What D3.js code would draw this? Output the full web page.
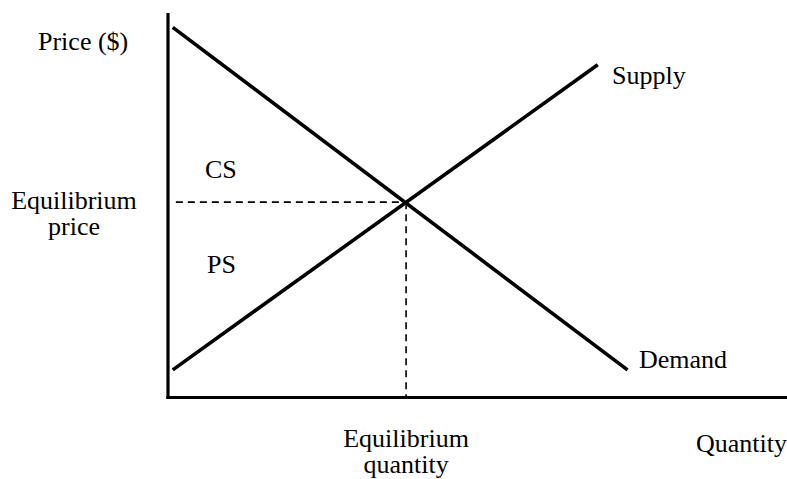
<!DOCTYPE html>
<html>
<head>
<meta charset="utf-8">
<title>Supply and demand</title>
<script src="https://d3js.org/d3.v7.min.js"></script>
<style>
  body { margin: 0; background: #fff; }
  text { font-family: "Liberation Serif", "Times New Roman", serif; font-size: 26px; fill: #000; }
</style>
</head>
<body>
<div id="chart"></div>
<script>
// curves (quantity, price), arbitrary units
var demandQ = [0.2, 19.3]
var demandP = [15.4, 1.15]
var supplyQ = [0.2, 18.05]
var supplyP = [1.15, 13.85]
var eqQ = 10
var eqP = 8.13

var width = 787, height = 479

var svg = d3.select("#chart").append("svg")
    .attr("width", width)
    .attr("height", height)

// scales: origin of the axes at (168, 397.5)
var x = d3.scaleLinear().domain([0, 26]).range([168, 787])
var y = d3.scaleLinear().domain([0, 16]).range([397.5, 13])

// axes (plain lines, no ticks)
svg.append("line")
    .attr("x1", x(0)).attr("x2", x(0))
    .attr("y1", y(16)).attr("y2", y(0) + 1.5)
    .attr("stroke", "#000").attr("stroke-width", 3.2)
svg.append("line")
    .attr("x1", x(0) - 1.5).attr("x2", x(26))
    .attr("y1", y(0)).attr("y2", y(0))
    .attr("stroke", "#000").attr("stroke-width", 3.2)

// dashed guides to the equilibrium
svg.append("line")
    .attr("x1", x(0.33)).attr("x2", x(eqQ))
    .attr("y1", y(eqP)).attr("y2", y(eqP))
    .attr("stroke", "#000").attr("stroke-width", 1.6)
    .attr("stroke-dasharray", "7,5")
svg.append("line")
    .attr("x1", x(eqQ)).attr("x2", x(eqQ))
    .attr("y1", y(eqP)).attr("y2", y(0))
    .attr("stroke", "#000").attr("stroke-width", 1.6)
    .attr("stroke-dasharray", "7,5")

var line = d3.line()
    .x(function(d) { return x(d[0]) })
    .y(function(d) { return y(d[1]) })

svg.append("path")
    .datum(d3.zip(demandQ, demandP))
    .attr("d", line)
    .attr("fill", "none").attr("stroke", "#000").attr("stroke-width", 3.6)
svg.append("path")
    .datum(d3.zip(supplyQ, supplyP))
    .attr("d", line)
    .attr("fill", "none").attr("stroke", "#000").attr("stroke-width", 3.6)

// labels
svg.append("text").attr("x", 38).attr("y", 50).text("Price ($)")
svg.append("text").attr("x", 612).attr("y", 84).text("Supply")
svg.append("text").attr("x", 639).attr("y", 368).text("Demand")
svg.append("text").attr("x", 696).attr("y", 452).text("Quantity")
svg.append("text").attr("x", 205).attr("y", 178).text("CS")
svg.append("text").attr("x", 207).attr("y", 273).text("PS")

var eqPriceLabel = svg.append("text")
    .attr("text-anchor", "middle")
eqPriceLabel.append("tspan").attr("x", 74).attr("y", y(eqP) + 6.5).text("Equilibrium")
eqPriceLabel.append("tspan").attr("x", 74).attr("y", y(eqP) + 32.5).text("price")

var eqQtyLabel = svg.append("text")
    .attr("text-anchor", "middle")
eqQtyLabel.append("tspan").attr("x", x(eqQ)).attr("y", 447).text("Equilibrium")
eqQtyLabel.append("tspan").attr("x", x(eqQ)).attr("y", 473).text("quantity")
</script>
</body>
</html>
